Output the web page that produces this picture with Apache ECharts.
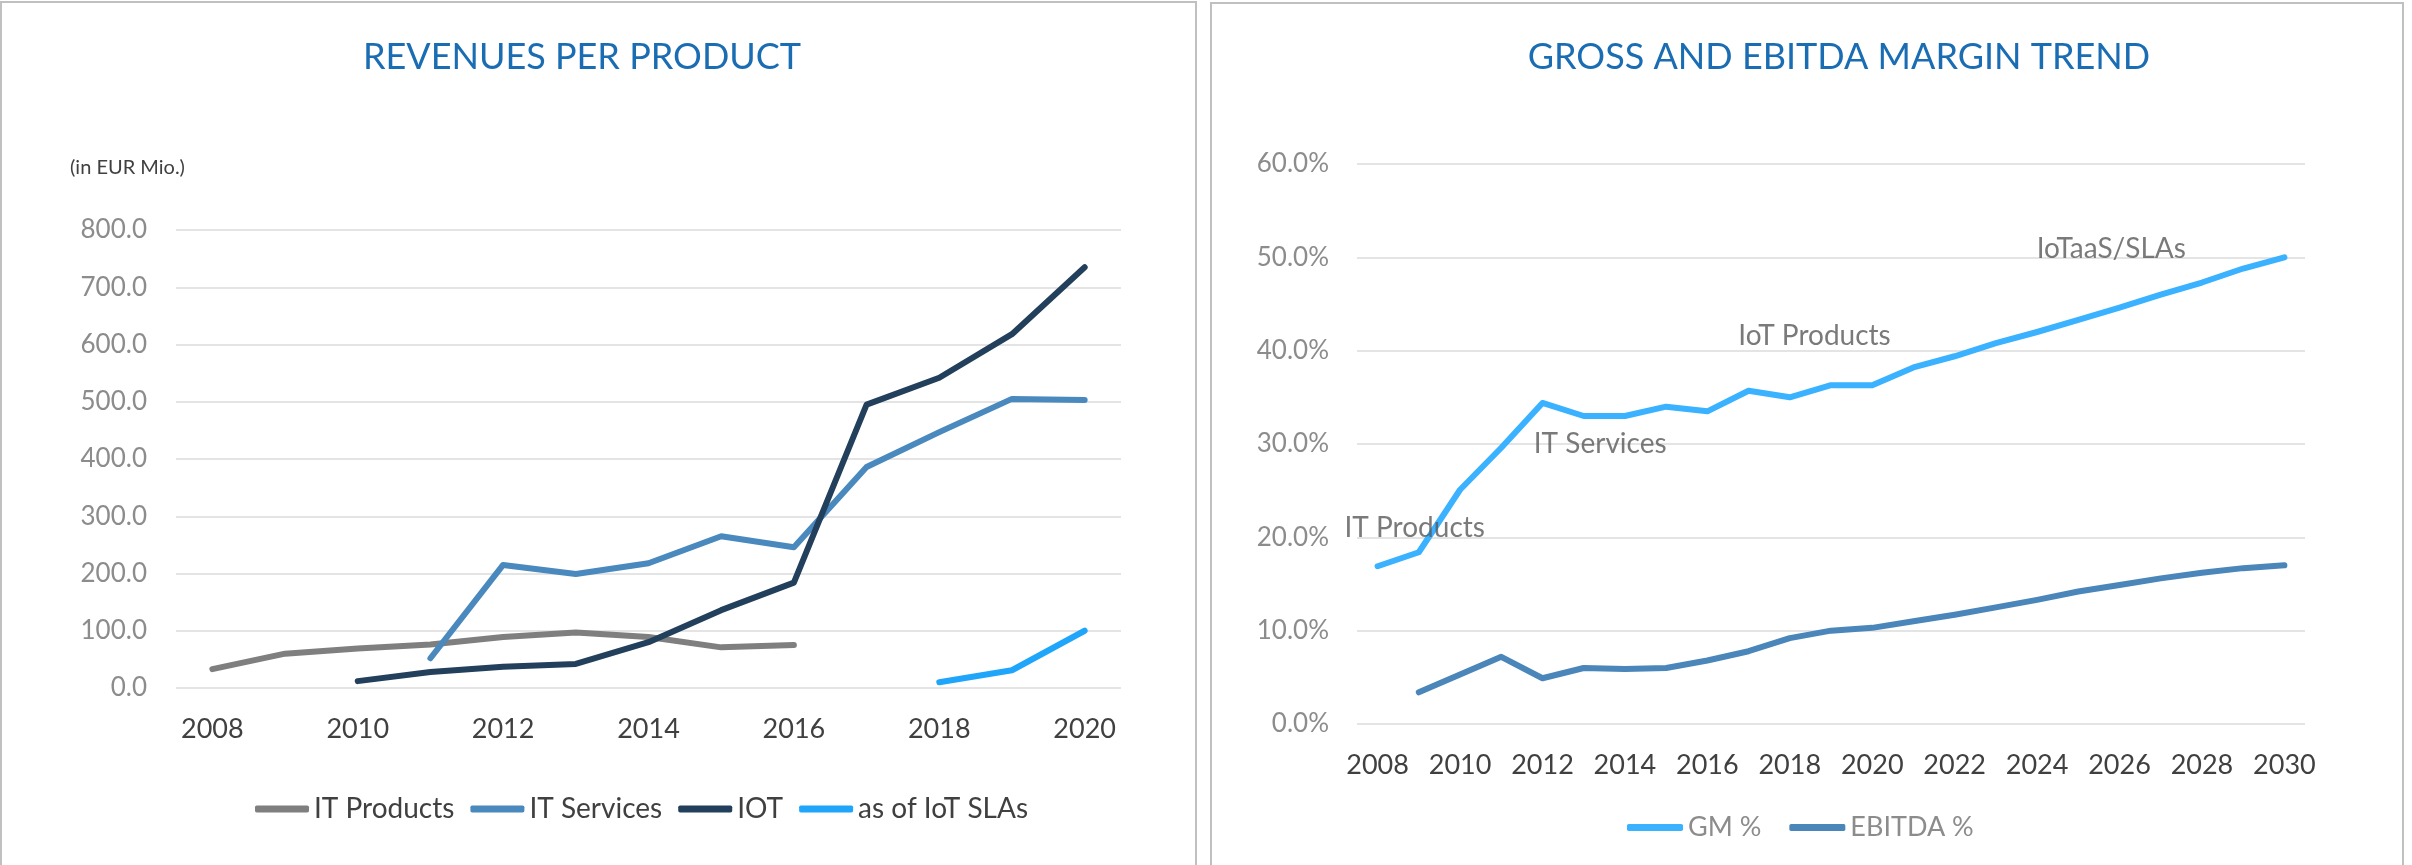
<!DOCTYPE html>
<html>
<head>
<meta charset="utf-8">
<script src="https://cdn.jsdelivr.net/npm/echarts@6/dist/echarts.min.js"></script>
<style>
html,body{margin:0;padding:0;background:#fff;}
#chart{width:2412px;height:865px;}
</style>
</head>
<body>
<div id="chart"></div>
<script>
// ---------- Left chart: Revenues per product (EUR Mio.) ----------
const revYears = ['2008','2009','2010','2011','2012','2013','2014','2015','2016','2017','2018','2019','2020'];
const itProducts = [33, 60, 69, 76, 89, 97, 89, 71, 75, null, null, null, null];
const itServices = [null, null, null, 52, 215, 199, 218, 265, 246, 386, 447, 505, 503];
const iot        = [null, null, 12, 28, 37, 42, 80, 136, 184, 495, 542, 618, 735];
const iotSlas    = [null, null, null, null, null, null, null, null, null, null, 10, 31, 100];
const revSeriesNames = ['IT Products', 'IT Services', 'IOT', 'as of IoT SLAs'];

// ---------- Right chart: Gross and EBITDA margin trend (%) ----------
const marginYears = ['2008','2009','2010','2011','2012','2013','2014','2015','2016','2017','2018','2019',
                     '2020','2021','2022','2023','2024','2025','2026','2027','2028','2029','2030'];
const gmPct     = [16.9, 18.4, 25.1, 29.6, 34.4, 33.0, 33.0, 34.0, 33.5, 35.7, 35.0, 36.3,
                   36.3, 38.2, 39.4, 40.8, 42.0, 43.3, 44.6, 46.0, 47.3, 48.8, 50.0];
const ebitdaPct = [null, 3.4, 5.3, 7.2, 4.9, 6.0, 5.9, 6.0, 6.8, 7.8, 9.2, 10.0,
                   10.3, 11.0, 11.7, 12.5, 13.3, 14.2, 14.9, 15.6, 16.2, 16.7, 17.0];
const marginSeriesNames = ['GM %', 'EBITDA %'];

// Annotations on the margin chart (year position, value in %)
const noteLabels = ['IT Products', 'IT Services', 'IoT Products', 'IoTaaS/SLAs'];
const noteYears  = [2008.9, 2013.4, 2018.6, 2025.8];
const noteValues = [21.0, 30.0, 41.6, 50.9];

const FONT = 'Lato, "Open Sans", sans-serif';
const colors = {
  itProducts: '#7F7F7F', itServices: '#4A89BE', iot: '#223F5B', slas: '#1FA6FA',
  gm: '#3AB2FF', ebitda: '#4A86B9'
};

function lineSeries(name, data, color, xi, yi) {
  return {
    name: name, type: 'line', data: data, xAxisIndex: xi, yAxisIndex: yi,
    symbol: 'none', connectNulls: false, smooth: false,
    lineStyle: { color: color, width: 6, cap: 'round', join: 'round' },
    itemStyle: { color: color },
    emphasis: { disabled: true }, animation: false
  };
}

const chart = echarts.init(document.getElementById('chart'), null, { renderer: 'canvas' });

const option = {
  backgroundColor: '#ffffff',
  animation: false,
  textStyle: { fontFamily: FONT },
  title: [
    { text: 'REVENUES PER PRODUCT', left: 577, top: 34, textAlign: 'center',
      textStyle: { fontFamily: FONT, fontSize: 36, fontWeight: 'normal', color: '#1B6DB3' } },
    { text: 'GROSS AND EBITDA MARGIN TREND', left: 1834, top: 34, textAlign: 'center',
      textStyle: { fontFamily: FONT, fontSize: 36, fontWeight: 'normal', color: '#1B6DB3' } },
    { text: '(in EUR Mio.)', left: 65, top: 153,
      textStyle: { fontFamily: FONT, fontSize: 20, fontWeight: 'normal', color: '#404040' } }
  ],
  graphic: [
    { type: 'rect', shape: { x: 1, y: 2, width: 1195, height: 900 },
      style: { fill: 'none', stroke: '#C0C0C0', lineWidth: 2 }, silent: true, z: -1 },
    { type: 'rect', shape: { x: 1211, y: 3, width: 1192, height: 900 },
      style: { fill: 'none', stroke: '#C0C0C0', lineWidth: 2 }, silent: true, z: -1 }
  ],
  legend: [
    { data: revSeriesNames, left: 250, top: 790, orient: 'horizontal',
      icon: 'roundRect', itemWidth: 54, itemHeight: 7, itemGap: 16,
      textStyle: { fontFamily: FONT, fontSize: 28, color: '#404040' },
      selectedMode: false },
    { data: marginSeriesNames, left: 1622, top: 809, orient: 'horizontal',
      icon: 'roundRect', itemWidth: 56, itemHeight: 7, itemGap: 28,
      textStyle: { fontFamily: FONT, fontSize: 27, color: '#8C8C8C' },
      selectedMode: false }
  ],
  grid: [
    { left: 176, right: 1291, top: 230, bottom: 177, outerBoundsMode: 'none', containLabel: false },
    { left: 1357, right: 107, top: 164, bottom: 141, outerBoundsMode: 'none', containLabel: false }
  ],
  xAxis: [
    { type: 'category', gridIndex: 0, data: revYears, boundaryGap: true,
      axisLine: { show: false }, axisTick: { show: false },
      axisLabel: { interval: 1, margin: 28, fontFamily: FONT, fontSize: 27, color: '#404040' },
      splitLine: { show: false } },
    { type: 'category', gridIndex: 1, data: marginYears, boundaryGap: true,
      axisLine: { show: false }, axisTick: { show: false },
      axisLabel: { interval: 1, margin: 28, fontFamily: FONT, fontSize: 27, color: '#404040' },
      splitLine: { show: false } },
    { type: 'value', gridIndex: 1, min: 2007.5, max: 2030.5, show: false,
      axisLine: { show: false }, axisTick: { show: false }, axisLabel: { show: false },
      splitLine: { show: false } }
  ],
  yAxis: [
    { type: 'value', gridIndex: 0, min: 0, max: 800, interval: 100,
      axisLine: { show: false }, axisTick: { show: false },
      axisLabel: { margin: 29, fontFamily: FONT, fontSize: 26, color: '#8C8C8C',
                   formatter: v => v.toFixed(1) },
      splitLine: { show: true, lineStyle: { color: '#E4E4E4', width: 2 } } },
    { type: 'value', gridIndex: 1, min: 0, max: 60, interval: 10,
      axisLine: { show: false }, axisTick: { show: false },
      axisLabel: { margin: 28, fontFamily: FONT, fontSize: 26, color: '#8C8C8C',
                   formatter: v => v.toFixed(1) + '%' },
      splitLine: { show: true, lineStyle: { color: '#E4E4E4', width: 2 } } }
  ],
  series: [
    lineSeries(revSeriesNames[0], itProducts, colors.itProducts, 0, 0),
    lineSeries(revSeriesNames[1], itServices, colors.itServices, 0, 0),
    lineSeries(revSeriesNames[2], iot, colors.iot, 0, 0),
    lineSeries(revSeriesNames[3], iotSlas, colors.slas, 0, 0),
    lineSeries(marginSeriesNames[0], gmPct, colors.gm, 1, 1),
    lineSeries(marginSeriesNames[1], ebitdaPct, colors.ebitda, 1, 1),
    {
      name: 'notes', type: 'scatter', xAxisIndex: 2, yAxisIndex: 1,
      symbolSize: 0, silent: true, z: 5,
      data: noteLabels.map((t, i) => ({ value: [noteYears[i], noteValues[i]], name: t })),
      label: { show: true, position: 'inside', formatter: p => p.name,
               fontFamily: FONT, fontSize: 28, color: '#595959' },
      emphasis: { disabled: true }
    }
  ]
};
chart.setOption(option);
</script>
</body>
</html>
